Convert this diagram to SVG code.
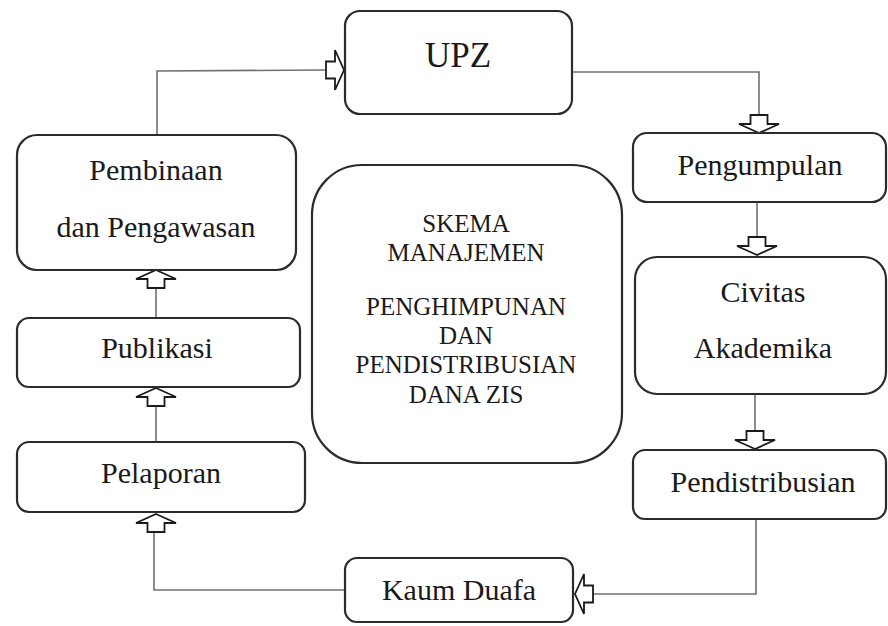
<svg xmlns="http://www.w3.org/2000/svg" xmlns:xlink="http://www.w3.org/1999/xlink" width="888" height="626" viewBox="0 0 888 626">
<style>
.box{fill:#fff;stroke:#2b2b2b;stroke-width:2.2}
.lbl{font-family:"Liberation Serif","Times New Roman",serif;font-size:30px;fill:#1a1a1a;text-anchor:middle}
.ctr{font-family:"Liberation Serif","Times New Roman",serif;font-size:25px;fill:#1a1a1a;text-anchor:middle}
.con{fill:none;stroke:#707070;stroke-width:1.6}
.arr{fill:#fff;stroke:#1a1a1a;stroke-width:1.8;stroke-linejoin:miter}
</style>
<defs>
<path id="ah" class="arr" d="M0,0 L20,9 L8.5,9 L8.5,18 L-8.5,18 L-8.5,9 L-20,9 Z"/>
</defs>
<rect width="888" height="626" fill="#fff"/>
<g id="connectors">
<polyline class="con" points="572,72 759,72 759,115"/>
<polyline class="con" points="757,202 757,237"/>
<polyline class="con" points="755,394 755,431"/>
<polyline class="con" points="756,519 756,594 593,594"/>
<polyline class="con" points="345,590 154,590 154,531"/>
<polyline class="con" points="156,442 156,404"/>
<polyline class="con" points="156,318 156,288"/>
<polyline class="con" points="157,135 157,71 326,70"/>
<use href="#ah" transform="translate(759,133) rotate(180)"/>
<use href="#ah" transform="translate(757,255) rotate(180)"/>
<use href="#ah" transform="translate(755,449) rotate(180)"/>
<use href="#ah" transform="translate(575,594) rotate(-90)"/>
<use href="#ah" transform="translate(156,514)"/>
<use href="#ah" transform="translate(156,388)"/>
<use href="#ah" transform="translate(156,270)"/>
<use href="#ah" transform="translate(344,70) rotate(90)"/>
</g>
<g id="upz">
<rect class="box" x="345" y="11" width="227" height="103" rx="15"/>
<text class="lbl" x="458" y="67" style="font-size:35px">UPZ</text>
</g>
<g id="pengumpulan">
<rect class="box" x="633" y="133" width="253" height="69" rx="14"/>
<text class="lbl" x="760" y="175">Pengumpulan</text>
</g>
<g id="civitas">
<rect class="box" x="635" y="257" width="251" height="137" rx="22"/>
<text class="lbl" x="763" y="302">Civitas</text>
<text class="lbl" x="763" y="358">Akademika</text>
</g>
<g id="pendistribusian">
<rect class="box" x="633" y="450" width="253" height="69" rx="12"/>
<text class="lbl" x="763" y="492">Pendistribusian</text>
</g>
<g id="kaum-duafa">
<rect class="box" x="345" y="558" width="228" height="64" rx="12"/>
<text class="lbl" x="459" y="600">Kaum Duafa</text>
</g>
<g id="pelaporan">
<rect class="box" x="17" y="442" width="288" height="70" rx="12"/>
<text class="lbl" x="161" y="483">Pelaporan</text>
</g>
<g id="publikasi">
<rect class="box" x="17" y="318" width="283" height="69" rx="12"/>
<text class="lbl" x="157" y="358">Publikasi</text>
</g>
<g id="pembinaan">
<rect class="box" x="17" y="135" width="279" height="135" rx="20"/>
<text class="lbl" x="156" y="180">Pembinaan</text>
<text class="lbl" x="156" y="237">dan Pengawasan</text>
</g>
<g id="skema">
<rect class="box" x="312" y="165" width="310" height="298" rx="50"/>
<text class="ctr" x="466" y="232">SKEMA</text>
<text class="ctr" x="466" y="261">MANAJEMEN</text>
<text class="ctr" x="466" y="315">PENGHIMPUNAN</text>
<text class="ctr" x="466" y="344">DAN</text>
<text class="ctr" x="466" y="373">PENDISTRIBUSIAN</text>
<text class="ctr" x="466" y="403">DANA ZIS</text>
</g>
</svg>
